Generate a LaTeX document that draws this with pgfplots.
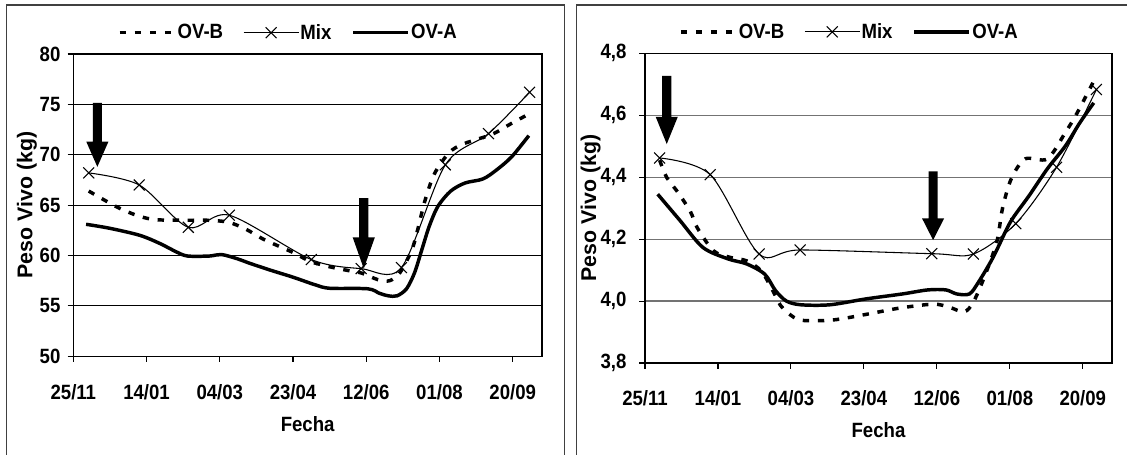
\documentclass[border=0pt]{standalone}
\usepackage{fontspec}
\setmainfont{Liberation Sans}[FakeStretch=0.9]
\newfontfamily\ylabfont{Liberation Sans}
\usepackage{pgfplots}
\pgfplotsset{compat=1.18}

\newcommand{\lblfont}{\bfseries\fontsize{15.5}{18}\selectfont}
\newcommand{\ylblfont}{\ylabfont\bfseries\fontsize{16}{19}\selectfont}
% block arrow: x, shaft top, head start, tip
\newcommand{\bigarrow}[4]{%
  \fill ([xshift=-3.4pt]axis cs:#1,#2) -- ([xshift=3.4pt]axis cs:#1,#2)
    -- ([xshift=3.4pt]axis cs:#1,#3) -- ([xshift=8.3pt]axis cs:#1,#3)
    -- (axis cs:#1,#4) -- ([xshift=-8.3pt]axis cs:#1,#3)
    -- ([xshift=-3.4pt]axis cs:#1,#3) -- cycle;}

\pgfplotsset{
  panel/.style={
    scale only axis,
    xmin=0, xmax=320,
    xtick={0,50,...,300},
    xticklabels={25/11,14/01,04/03,23/04,12/06,01/08,20/09},
    ymajorgrids,
    axis line style={line width=1.1pt},
    tick align=outside,
    major tick length=4.2pt,
    tick style={black, line width=0.8pt},
    xtick pos=left, ytick pos=left,
    /pgf/number format/assume math mode=true,
    ticklabel style={font=\lblfont},
    xticklabel style={anchor=center, yshift=-22.5pt},
    xlabel style={font=\lblfont},
    ylabel style={font=\ylblfont},
    xlabel={Fecha}, ylabel={Peso Vivo (kg)},
    legend columns=3,
    legend cell align=left,
    legend style={draw=none, fill=none, font=\lblfont, anchor=center,
      inner sep=0pt, nodes={inner sep=1pt},
      /tikz/every even column/.append style={column sep=14pt}},
    legend image code/.code={%
      \draw[mark repeat=2, mark phase=2, ##1] plot coordinates {(0pt,0pt) (20.6pt,0pt) (41.2pt,0pt)};},
  },
  ovb/.style={black, line width=2.6pt, dash pattern=on 4.8pt off 6.5pt, smooth, tension=0.5},
  mix/.style={black, line width=0.8pt, smooth, tension=0.5, mark=x, mark size=5.8pt,
    mark options={solid, line width=0.8pt}},
  ova/.style={black, line width=2.6pt, smooth, tension=0.5},
}

\begin{document}
\begin{tikzpicture}
\useasboundingbox (0,0) rectangle (845.25pt,-340.5pt);
% panel frames
\draw[black!75, line width=1.1pt] (5pt,-345pt) |- (423.5pt,-3.75pt) -- (423.5pt,-345pt);
\draw[black!75, line width=1.1pt] (432.5pt,-345pt) |- (850pt,-3.75pt);

% left panel
\begin{axis}[panel, at={(55pt,-267.2pt)}, anchor=south west,
  width=351.5pt, height=226.7pt,
  ymin=50, ymax=80, ytick={50,55,...,80},
  major grid style={black, line width=0.75pt},
  yticklabel style={anchor=east, inner sep=0pt, xshift=-5.3pt},
  xlabel style={at={(axis description cs:0.5,-0.2228)}, anchor=center},
  ylabel style={at={(axis description cs:-0.099,0.5)}, anchor=center},
  legend style={at={(0.458,1.0706)}},
]
\addplot[ovb] coordinates {
  (10.5,66.4) (30,64.8) (45,63.9) (57,63.55) (78,63.5) (92,63.5) (106,63.3)
  (118,62.6) (130,61.6) (150,60.3) (162,59.4) (176,58.85) (188,58.5) (197,58.25)
  (208,57.6) (216,57.5) (223,58.3) (231,60.5) (235,62.5) (240,65.4) (246.5,68.1)
  (256.5,70.2) (265,71.0) (275,71.5) (287,72.1) (299,73.1) (310.5,74.0)
};
\addlegendentry{OV-B}
\addplot[mix] coordinates {
  (10.5,68.2) (45,67.0) (78.5,62.8) (106.5,64.0) (162.5,59.6) (196.5,58.7)
  (224,58.8) (254,69.0) (283.5,72.1) (311.5,76.2)
};
\addlegendentry{Mix}
\addplot[ova] coordinates {
  (8.7,63.1) (25,62.7) (45.5,62.0) (59,61.2) (70.5,60.35) (78,59.95) (93,59.95)
  (101,60.1) (111.5,59.7) (121,59.2) (135.6,58.5) (150,57.85) (165,57.1)
  (175,56.75) (201,56.7) (209,56.25) (215,56.0) (221,56.0) (227.5,56.7)
  (233,58.3) (238,60.6) (243,62.9) (249,64.9) (257.7,66.4) (267.5,67.2)
  (279.7,67.6) (289,68.5) (299.3,69.8) (311,71.9)
};
\addlegendentry{OV-A}
\bigarrow{16.4}{75.16}{71.3}{68.8}
\bigarrow{198.3}{65.7}{61.8}{58.7}
\end{axis}

% right panel
\begin{axis}[panel, at={(483.75pt,-272.25pt)}, anchor=south west,
  width=350.25pt, height=232.3pt,
  ymin=3.8, ymax=4.8, ytick={3.8,4,4.2,4.4,4.6,4.8},
  major grid style={black!55, line width=0.9pt},
  yticklabel style={anchor=east, inner sep=0pt, xshift=-9.5pt,
    /pgf/number format/.cd, fixed, fixed zerofill, precision=1, use comma},
  xlabel style={at={(axis description cs:0.5,-0.2174)}, anchor=center},
  ylabel style={at={(axis description cs:-0.1165,0.5)}, anchor=center},
  legend style={at={(0.437,1.069)}},
]
\addplot[ovb] coordinates {
  (10,4.455) (15,4.398) (22.4,4.352) (31,4.29) (36,4.235) (47,4.162) (58.4,4.141)
  (69.6,4.13) (79.5,4.098) (87,4.039) (93,3.985) (101.8,3.948) (109.3,3.937)
  (129,3.939) (151.5,3.957) (174,3.977) (197.5,3.99) (208.6,3.98) (218.6,3.965)
  (224.8,3.995) (232.3,4.075) (241,4.19) (245,4.30) (251,4.395) (260.5,4.459)
  (275.7,4.459) (288,4.544) (295.6,4.603) (307.5,4.71)
};
\addlegendentry{OV-B}
\addplot[mix] coordinates {
  (10,4.462) (44.7,4.408) (78.2,4.152) (106.3,4.165) (196.5,4.153) (225,4.152)
  (254,4.25) (282,4.432) (309.3,4.683)
};
\addlegendentry{Mix}
\addplot[ova] coordinates {
  (8.7,4.345) (24,4.26) (39.7,4.173) (57,4.136) (69.6,4.12) (82,4.087) (89.4,4.034)
  (96.9,4.0) (106.8,3.988) (126.7,3.988) (151.5,4.007) (176.4,4.023) (193.8,4.036)
  (206.2,4.036) (213.6,4.023) (222.3,4.023) (228.5,4.061) (238.5,4.141)
  (248.4,4.238) (253.4,4.277) (263.3,4.341) (275.7,4.427) (288.1,4.501)
  (298,4.576) (307.5,4.64)
};
\addlegendentry{OV-A}
\bigarrow{14.9}{4.727}{4.595}{4.507}
\bigarrow{197.4}{4.419}{4.267}{4.197}
\end{axis}
\end{tikzpicture}
\end{document}
